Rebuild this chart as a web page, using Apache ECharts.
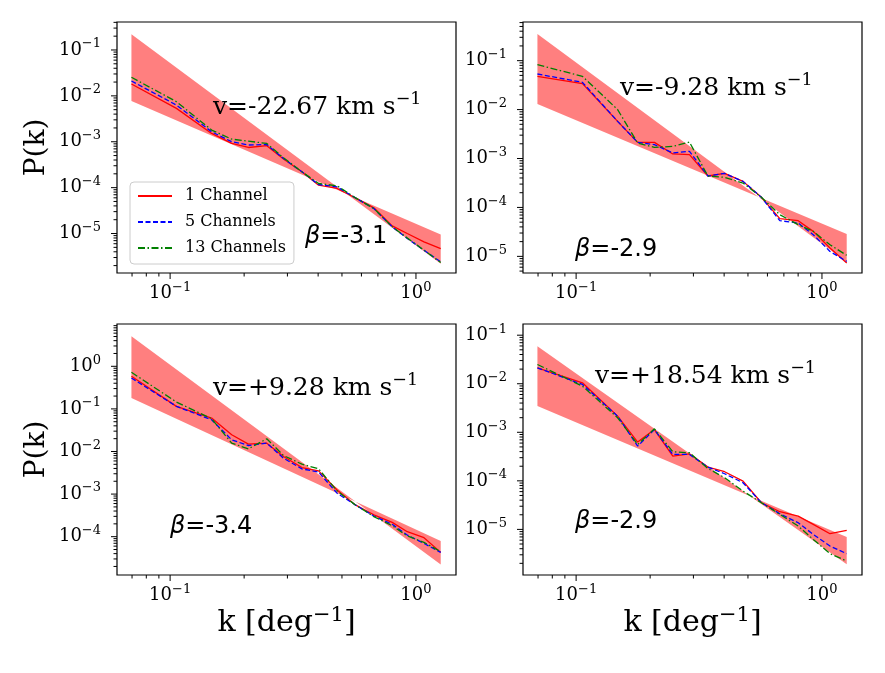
<!DOCTYPE html>
<html>
<head>
<meta charset="UTF-8">
<title>P(k)</title>
<script src="https://cdn.jsdelivr.net/npm/echarts@6/dist/echarts.min.js"></script>
<style>
  html, body { margin: 0; padding: 0; background: #fff; }
  #main { width: 885px; height: 673px; }
</style>
</head>
<body>
<div id="main"></div>
<script>
// wavenumber bins, shared by all four panels
var k = [0.0696, 0.1061, 0.1475, 0.178, 0.2082, 0.2473, 0.2891, 0.3436, 0.4018, 0.4775,
         0.5672, 0.6739, 0.8006, 0.9218, 1.078, 1.261];

var seriesNames = ['1 Channel', '5 Channels', '13 Channels'];

// v = -22.67 km/s
var p1Ch1  = [0.0181, 5.33e-3, 1.52e-3, 9.2e-4, 7.5e-4, 8.2e-4, 4.2e-4, 2.21e-4, 1.13e-4, 9.6e-5, 6.0e-5, 3.63e-5, 1.47e-5, 1.0e-5, 6.6e-6, 4.7e-6];
var p1Ch5  = [0.0211, 6.3e-3, 1.65e-3, 1.0e-3, 8.5e-4, 8.7e-4, 4.33e-4, 2.21e-4, 1.17e-4, 1.04e-4, 6.0e-5, 3.51e-5, 1.40e-5, 7.8e-6, 4.33e-6, 2.41e-6];
var p1Ch13 = [0.0254, 7.46e-3, 1.80e-3, 1.14e-3, 1.03e-3, 9.2e-4, 4.48e-4, 2.21e-4, 1.23e-4, 1.10e-4, 6.0e-5, 3.51e-5, 1.40e-5, 8.0e-6, 4.33e-6, 2.33e-6];
// v = -9.28 km/s
var p2Ch1  = [0.0478, 0.0339, 5.75e-3, 2.14e-3, 2.14e-3, 1.24e-3, 1.20e-3, 4.39e-4, 4.98e-4, 3.41e-4, 1.61e-4, 5.89e-5, 5.36e-5, 3.24e-5, 1.48e-5, 7.3e-6];
var p2Ch5  = [0.0534, 0.0361, 5.75e-3, 2.14e-3, 1.92e-3, 1.30e-3, 1.40e-3, 4.39e-4, 4.98e-4, 3.41e-4, 1.61e-4, 5.36e-5, 4.8e-5, 2.77e-5, 1.26e-5, 7.9e-6];
var p2Ch13 = [0.0828, 0.0478, 0.0100, 2.07e-3, 1.69e-3, 1.77e-3, 2.17e-3, 4.39e-4, 4.12e-4, 3.15e-4, 1.61e-4, 7.1e-5, 4.44e-5, 3.24e-5, 1.73e-5, 1.05e-5];
// v = +9.28 km/s
var p3Ch1  = [0.582, 0.1145, 0.0608, 0.0247, 0.0149, 0.0157, 7.63e-3, 4.2e-3, 3.51e-3, 1.25e-3, 5.56e-4, 3.24e-4, 2.17e-4, 1.31e-4, 9.46e-5, 4.28e-5];
var p3Ch5  = [0.531, 0.1145, 0.0556, 0.0188, 0.0138, 0.0157, 6.97e-3, 3.91e-3, 3.27e-3, 1.05e-3, 5.56e-4, 3.06e-4, 1.95e-4, 1.09e-4, 6.96e-5, 4.28e-5];
var p3Ch13 = [0.722, 0.145, 0.0587, 0.0157, 0.01155, 0.0199, 8.05e-3, 5.04e-3, 3.91e-3, 1.19e-3, 5.56e-4, 2.96e-4, 1.81e-4, 1.04e-4, 7.35e-5, 4.44e-5];
// v = +18.54 km/s
var p4Ch1  = [0.0213, 0.01045, 2.15e-3, 6.28e-4, 1.14e-3, 3.23e-4, 3.61e-4, 1.92e-4, 1.54e-4, 9.89e-5, 3.54e-5, 2.31e-5, 1.88e-5, 1.27e-5, 8.15e-6, 9.53e-6];
var p4Ch5  = [0.0213, 9.66e-3, 2.15e-3, 5.19e-4, 1.14e-3, 3.50e-4, 3.50e-4, 1.92e-4, 1.40e-4, 9.14e-5, 3.54e-5, 2.10e-5, 1.37e-5, 7.89e-6, 4.54e-6, 3.16e-6];
var p4Ch13 = [0.0249, 8.92e-3, 1.99e-3, 5.62e-4, 1.18e-3, 3.97e-4, 3.79e-4, 1.80e-4, 1.16e-4, 6.15e-5, 3.54e-5, 2.04e-5, 1.17e-5, 6.22e-6, 3.16e-6, 2.23e-6];

// shaded slope range: [steep line at k start, at k end, shallow line at k start, at k end]
var bandK = [0.0696, 1.261];
var p1Band = [0.22, 2.2e-6, 7.7e-3, 9.5e-6];
var p2Band = [0.351, 7.65e-6, 0.013, 2.86e-5];
var p3Band = [5.08, 2.23e-5, 0.18, 7.9e-5];
var p4Band = [0.0594, 1.91e-6, 3.46e-3, 6.95e-6];

var velLabels = ['v=-22.67 km s', 'v=-9.28 km s', 'v=+9.28 km s', 'v=+18.54 km s'];
var betaLabels = ['=-3.1', '=-2.9', '=-3.4', '=-2.9'];

// axis ranges and decade tick exponents
var xRange = [0.0608, 1.455];
var xTickExp = [-1, 0];
var yRanges = [[1.38e-6, 0.407], [4.57e-6, 0.617], [1.26e-5, 9.84], [1.15e-6, 0.17]];
var yTickExp = [[-5, -4, -3, -2, -1], [-5, -4, -3, -2, -1], [-4, -3, -2, -1, 0], [-5, -4, -3, -2, -1]];

var panels = [
  { data: [p1Ch1, p1Ch5, p1Ch13], band: p1Band },
  { data: [p2Ch1, p2Ch5, p2Ch13], band: p2Band },
  { data: [p3Ch1, p3Ch5, p3Ch13], band: p3Band },
  { data: [p4Ch1, p4Ch5, p4Ch13], band: p4Band }
];

var grids = [
  { left: 117, top: 22, width: 339, height: 251 },
  { left: 523, top: 22, width: 339, height: 251 },
  { left: 117, top: 324, width: 339, height: 251 },
  { left: 523, top: 324, width: 339, height: 251 }
];

var lineStyles = [
  { color: '#ff0000', width: 1.3, type: 'solid' },
  { color: '#0000ff', width: 1.3, type: [5, 2.5] },
  { color: '#008000', width: 1.3, type: [7, 2.5, 1.5, 2.5] }
];

var serif = 'DejaVu Serif';
var tickRich = {
  b: { fontFamily: serif, fontSize: 18, color: '#000' },
  s: { fontFamily: serif, fontSize: 13, color: '#000', padding: [0, 0, 12, 0] }
};

function decadeFormatter(exps) {
  return function (v) {
    var lg = Math.log10(v);
    var e = Math.round(lg);
    if (Math.abs(lg - e) > 1e-6 || exps.indexOf(e) < 0) return '';
    return '{b|10}{s|' + (e < 0 ? '\u2212' + (-e) : e) + '}';
  };
}

function renderBand(params, api) {
  var a0 = api.coord([api.value(0), api.value(2)]);
  var a1 = api.coord([api.value(1), api.value(3)]);
  var b1 = api.coord([api.value(1), api.value(5)]);
  var b0 = api.coord([api.value(0), api.value(4)]);
  return {
    type: 'polygon',
    shape: { points: [a0, a1, b1, b0] },
    style: { fill: 'rgba(255,0,0,0.5)' }
  };
}

function renderTick(params, api) {
  var p = api.coord([api.value(0), api.value(1)]);
  var len = api.value(3);
  var onY = api.value(2) === 1;
  return {
    type: 'line',
    shape: { x1: p[0], y1: p[1], x2: onY ? p[0] - len : p[0], y2: onY ? p[1] : p[1] + len },
    style: { stroke: '#000', lineWidth: 1 }
  };
}

// matplotlib-like outward ticks: majors at decades, minors at 2..9
function tickData(yr, yexp) {
  var out = [];
  var e, m, v;
  xTickExp.forEach(function (e) { out.push([Math.pow(10, e), yr[0], 0, 6]); });
  for (e = -2; e <= 1; e++) {
    for (m = 2; m <= 9; m++) {
      v = m * Math.pow(10, e);
      if (v > xRange[0] && v < xRange[1]) out.push([v, yr[0], 0, 3.5]);
    }
  }
  yexp.forEach(function (e) { out.push([xRange[0], Math.pow(10, e), 1, 6]); });
  for (e = -7; e <= 1; e++) {
    for (m = 2; m <= 9; m++) {
      v = m * Math.pow(10, e);
      if (v > yr[0] && v < yr[1]) out.push([xRange[0], v, 1, 3.5]);
    }
  }
  return out;
}

var xAxes = [], yAxes = [], series = [];

panels.forEach(function (pn, i) {
  xAxes.push({
    type: 'log', gridIndex: i, min: xRange[0], max: xRange[1],
    axisLine: { show: false }, axisTick: { show: false }, splitLine: { show: false },
    axisLabel: { formatter: decadeFormatter(xTickExp), rich: tickRich, margin: 8 },
    name: i >= 2 ? '{t|k [deg}{s|\u22121}{t|]}' : '',
    nameLocation: 'middle', nameGap: 27,
    nameTextStyle: {
      rich: {
        t: { fontFamily: serif, fontSize: 30, color: '#000' },
        s: { fontFamily: serif, fontSize: 21, color: '#000', padding: [0, 0, 15, 0] }
      }
    }
  });
  yAxes.push({
    type: 'log', gridIndex: i, min: yRanges[i][0], max: yRanges[i][1],
    axisLine: { show: false }, axisTick: { show: false }, splitLine: { show: false },
    axisLabel: { formatter: decadeFormatter(yTickExp[i]), rich: tickRich, margin: 16 },
    name: i % 2 === 0 ? 'P(k)' : '',
    nameLocation: 'middle', nameGap: 66, nameRotate: 90,
    nameTextStyle: { fontFamily: serif, fontSize: 28, color: '#000' }
  });

  series.push({
    type: 'custom', xAxisIndex: i, yAxisIndex: i, z: 1, silent: true,
    renderItem: renderBand,
    encode: { x: [0, 1], y: [2, 3, 4, 5] },
    data: [[bandK[0], bandK[1], pn.band[0], pn.band[1], pn.band[2], pn.band[3]]]
  });

  pn.data.forEach(function (vals, j) {
    series.push({
      name: seriesNames[j], type: 'line', xAxisIndex: i, yAxisIndex: i, z: 2 + j,
      symbol: 'none', silent: true,
      lineStyle: lineStyles[j],
      itemStyle: { color: lineStyles[j].color },
      data: k.map(function (kv, n) { return [kv, vals[n]]; })
    });
  });

  series.push({
    type: 'custom', xAxisIndex: i, yAxisIndex: i, z: 10, silent: true,
    renderItem: renderTick,
    encode: { x: 0, y: 1 },
    data: tickData(yRanges[i], yTickExp[i])
  });
});

var velPos = [[213, 107], [620, 88], [213, 388], [595, 376]];
var betaPos = [[305, 237], [575, 250], [170, 527], [575, 522]];

var graphics = [];
velLabels.forEach(function (txt, i) {
  graphics.push({
    type: 'text', x: velPos[i][0], y: velPos[i][1], z: 20,
    style: {
      text: '{t|' + txt + '}{s|\u22121}',
      verticalAlign: 'middle', align: 'left',
      rich: {
        t: { fontFamily: serif, fontSize: 25, color: '#000' },
        s: { fontFamily: serif, fontSize: 17.5, color: '#000', padding: [0, 0, 16, 0] }
      }
    }
  });
});
betaLabels.forEach(function (txt, i) {
  graphics.push({
    type: 'text', x: betaPos[i][0], y: betaPos[i][1], z: 20,
    style: {
      text: '{b|\u03b2}{t|' + txt + '}',
      verticalAlign: 'middle', align: 'left',
      rich: {
        b: { fontFamily: 'DejaVu Sans', fontStyle: 'italic', fontSize: 24, color: '#000' },
        t: { fontFamily: 'DejaVu Sans', fontSize: 24, color: '#000' }
      }
    }
  });
});

var chart = echarts.init(document.getElementById('main'));
chart.setOption({
  animation: false,
  backgroundColor: '#fff',
  grid: grids.map(function (g) {
    return { left: g.left, top: g.top, width: g.width, height: g.height, show: true,
             borderColor: '#000', borderWidth: 1.2, backgroundColor: 'transparent' };
  }),
  xAxis: xAxes,
  yAxis: yAxes,
  legend: {
    data: seriesNames, orient: 'vertical', left: 130, top: 182,
    itemWidth: 34, itemHeight: 14, itemGap: 10, padding: [6, 8, 8, 7],
    backgroundColor: 'rgba(255,255,255,0.8)', borderColor: '#cccccc', borderWidth: 1, borderRadius: 4,
    selectedMode: false,
    itemStyle: { opacity: 0 },
    textStyle: { fontFamily: serif, fontSize: 16, color: '#000', padding: [0, 0, 0, 8] }
  },
  graphic: graphics,
  series: series
});
</script>
</body>
</html>
